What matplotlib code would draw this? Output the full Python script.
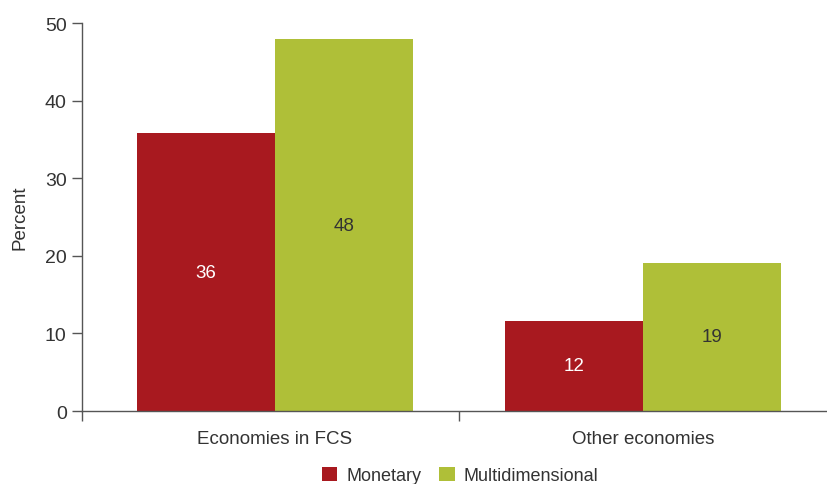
import matplotlib
matplotlib.use("Agg")
import matplotlib.pyplot as plt
import numpy as np

categories = ["Economies in FCS", "Other economies"]
monetary = [35.8, 11.6]
multidimensional = [47.9, 19.1]
monetary_labels = ["36", "12"]
multi_labels = ["48", "19"]
series_names = ["Monetary", "Multidimensional"]

plt.rcParams["font.family"] = ["Liberation Sans", "DejaVu Sans"]

red = "#A8191F"
green = "#AFBF38"
text_col = "#333333"
axis_col = "#555555"

fig = plt.figure(figsize=(8.28, 4.85), dpi=100)
ax = fig.add_axes([0.099, 0.1505, 0.901, 0.80])

x = np.arange(len(categories))
w = 0.375
b1 = ax.bar(x - w / 2, monetary, w, color=red, label=series_names[0])
b2 = ax.bar(x + w / 2, multidimensional, w, color=green, label=series_names[1])

for rect, lab in zip(b1, monetary_labels):
    ax.text(rect.get_x() + rect.get_width() / 2, rect.get_height() / 2, lab,
            ha="center", va="center", color="white", fontsize=13.5)
for rect, lab in zip(b2, multi_labels):
    ax.text(rect.get_x() + rect.get_width() / 2, rect.get_height() / 2, lab,
            ha="center", va="center", color=text_col, fontsize=13.5)

ax.set_xlim(-0.524, 1.503)
ax.set_ylim(0, 50)
ax.set_yticks(range(0, 51, 10))
ax.tick_params(axis="y", direction="out", length=7, width=1, color=axis_col,
               labelsize=14, labelcolor=text_col, pad=4)
ax.set_xticks([-0.524, 0.5])
ax.set_xticklabels(["", ""])
ax.tick_params(axis="x", which="major", direction="out", length=7, width=1, color=axis_col)
ax.set_xticks(x, minor=True)
ax.set_xticklabels(categories, minor=True)
ax.tick_params(axis="x", which="minor", length=0, labelsize=13.5, labelcolor=text_col, pad=14)

for s in ["top", "right"]:
    ax.spines[s].set_visible(False)
for s in ["left", "bottom"]:
    ax.spines[s].set_color(axis_col)
    ax.spines[s].set_linewidth(1)

ax.set_ylabel("Percent", fontsize=13.5, color=text_col, labelpad=12)

ax.legend(loc="center", bbox_to_anchor=(0.507, -0.166), ncol=2, frameon=False,
          fontsize=13, handlelength=0.85, handleheight=0.85, handletextpad=0.5,
          columnspacing=1.0, labelcolor=text_col, borderaxespad=0)

fig.savefig("out.png", dpi=100)
